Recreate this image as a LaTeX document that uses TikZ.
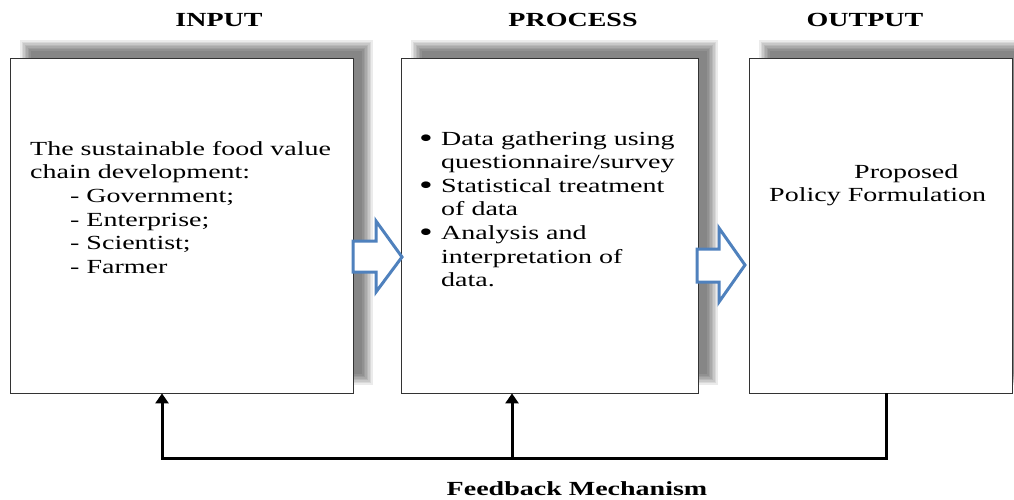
\documentclass[tikz,border=0pt]{standalone}
\usepackage{fontspec}
\setmainfont{Liberation Serif}[FakeStretch=1.4]
\usetikzlibrary{arrows.meta,calc,backgrounds}
\definecolor{arrowblue}{HTML}{4F81BD}

\tikzset{
  stagebox/.style={draw=black!80, line width=0.8pt, fill=white,
    minimum width=#1, minimum height=335pt, inner sep=0pt},
  heading/.style={font=\fontsize{20}{24}\selectfont\bfseries,
    anchor=base, inner sep=0pt},
  boxtext/.style={font=\fontsize{20}{23.6}\selectfont, align=left,
    anchor=north west, inner sep=0pt},
  blockarrow/.style={draw=arrowblue, fill=white, line width=3pt,
    line join=miter},
  fbline/.style={line width=3pt, line join=miter,
    -{Triangle[width=13pt,length=10pt]}}
}

% soft shadow behind a box, pushed up and right
\newcommand{\boxshadow}[1]{%
  \foreach \d in {-4.5,-3,-1.5,0,1.5,3,4.5,6}{%
    \fill[black,opacity=0.08]
      ($(#1.south west)+(15+\d,-13-\d)$) rectangle
      ($(#1.north east)+(15-\d,-13+\d)$);}}
\newcommand{\bigbullet}{\makebox[22pt][l]{\raisebox{-2.5pt}{%
  \fontsize{28}{0}\selectfont\textbullet}}}

\begin{document}
\begin{tikzpicture}[x=1pt,y=-1pt]
  \clip (0,0) rectangle (1014,499);

  % titles
  \node[heading] (intitle) at (219,26) {INPUT};
  \node[heading] (proctitle) at (573,26) {PROCESS};
  \node[heading] (outtitle) at (865,26) {OUTPUT};

  % the three stages
  \node[stagebox=343pt] (inbox) at (181.5,225.5) {};
  \node[stagebox=297pt] (procbox) at (549.5,225.5) {};
  \node[stagebox=263pt] (outbox) at (880.5,225.5) {};

  \begin{scope}[on background layer]
    \boxshadow{inbox}
    \boxshadow{procbox}
    \boxshadow{outbox}
  \end{scope}

  \node[boxtext] (intext) at (30,141) {The sustainable food value\\
    chain development:\\
    \hspace*{40pt}- Government;\\
    \hspace*{40pt}- Enterprise;\\
    \hspace*{40pt}- Scientist;\\
    \hspace*{40pt}- Farmer};

  \node[boxtext] (proctext) at (419,131) {%
    \bigbullet Data gathering using\\
    \hspace*{22pt}questionnaire/survey\\
    \bigbullet Statistical treatment\\
    \hspace*{22pt}of data\\
    \bigbullet Analysis and\\
    \hspace*{22pt}interpretation of\\
    \hspace*{22pt}data.};

  \node[boxtext] (outtext) at (769,164) {\hspace*{85pt}Proposed\\
    Policy Formulation};

  % block arrows between stages
  \draw[blockarrow] (353,241) -- (376,241) -- (376,221) -- (402,257)
    -- (376,292) -- (376,272) -- (353,272) -- cycle;
  \draw[blockarrow] (697,249) -- (719,249) -- (719,228) -- (745,265)
    -- (719,302) -- (719,282) -- (697,282) -- cycle;

  % feedback loop
  \coordinate (fbout) at (886,458);
  \coordinate (fbin) at (162,458);
  \coordinate (fbproc) at (512,458);
  \draw[fbline] (fbout |- outbox.south) -- (fbout) -- (fbin)
    -- (fbin |- inbox.south);
  \draw[fbline] (fbproc) -- (fbproc |- procbox.south);

  \node[heading] (fblabel) at (577,495) {Feedback Mechanism};
\end{tikzpicture}
\end{document}
